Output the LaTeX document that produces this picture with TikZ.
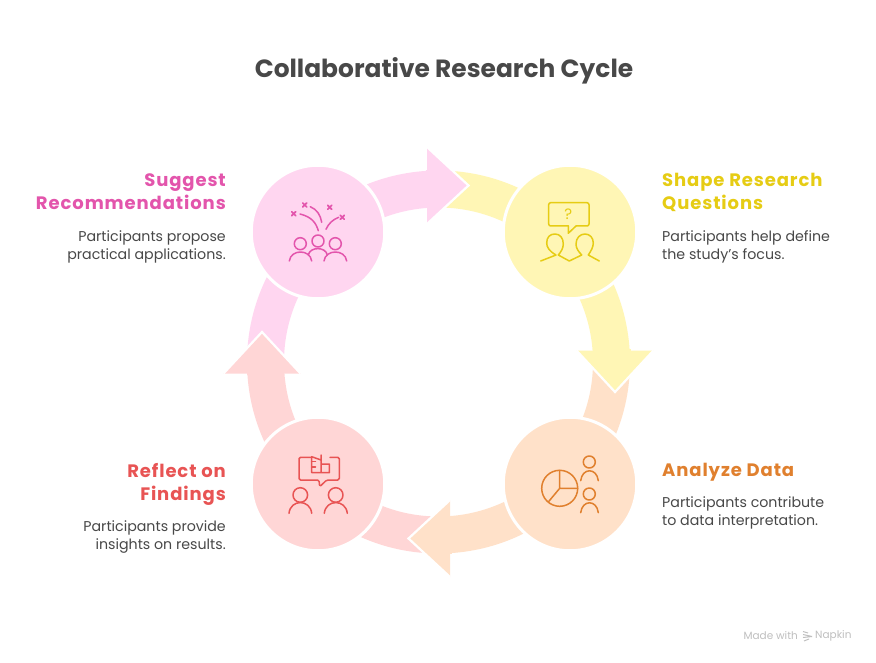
\documentclass[tikz,border=0pt]{standalone}
\usepackage{fontspec}
\setmainfont{Poppins}
\definecolor{pinkL}{HTML}{FFD6F0}
\definecolor{yelL}{HTML}{FFF6B5}
\definecolor{oraL}{HTML}{FFE1C9}
\definecolor{redL}{HTML}{FFD6D6}
\definecolor{pinkD}{HTML}{E355AC}
\definecolor{yelD}{HTML}{E6CC14}
\definecolor{oraD}{HTML}{E0802E}
\definecolor{redD}{HTML}{E85454}
\definecolor{ink}{HTML}{484848}
\newfontfamily\headfont[LetterSpace=5]{Poppins}
\tikzset{
  hub/.style={circle,draw=white,line width=3pt,minimum size=133.5pt,inner sep=0pt},
  icon/.style={line width=1.5pt,line cap=round,line join=round},
  heading/.style={inner sep=0pt,font=\headfont\fontsize{18}{23}\selectfont\bfseries},
  body/.style={inner sep=0pt,text=ink,font=\fontsize{14.2}{18}\selectfont},
}
% #1 rotation, #2 colour
\newcommand{\bandarc}[2]{%
  \begin{scope}[shift={(438.5,-362)},rotate=#1]
    \fill[#2] (180:154.5) arc[start angle=180,end angle=93.8,radius=154.5]
      -- (93.8:191.5) arc[start angle=93.8,end angle=180,radius=191.5] -- cycle;
  \end{scope}}
\newcommand{\arrowtip}[2]{%
  \begin{scope}[shift={(438.5,-362)},rotate=#1]
    \fill[#2] (-11.5,215) -- (30,176.5) -- (-11.5,138) -- cycle;
    \draw[white,line width=2.2pt,line join=miter] (-11.5,215) -- (30,176.5) -- (-11.5,138);
    \fill[#2] (-13,192) rectangle (-10.5,155);
  \end{scope}}
\newcommand{\shoulder}[4]{% x1, y-bottom, x2, y-top
  (#1,-#2) .. controls (#1+1.5,-#4) and (#3-1.5,-#4) .. (#3,-#2)}
\begin{document}
\begin{tikzpicture}[x=1pt,y=1pt]
\useasboundingbox (0,-663) rectangle (876,0);
\fill[white] (0,-663) rectangle (876,0);

\node[inner sep=0pt,text=ink,font=\fontsize{24.9}{28}\selectfont\bfseries] (title) at (444,-71) {Collaborative Research Cycle};

% ring bands, then arrow heads
\bandarc{0}{pinkL}\bandarc{-90}{yelL}\bandarc{-180}{oraL}\bandarc{-270}{redL}
\arrowtip{0}{pinkL}\arrowtip{-90}{yelL}\arrowtip{-180}{oraL}\arrowtip{-270}{redL}

% hubs
\node[hub,fill=pinkL] (hubA) at (318,-232) {};
\node[hub,fill=yelL]  (hubB) at (570,-232) {};
\node[hub,fill=oraL]  (hubC) at (570,-484) {};
\node[hub,fill=redL]  (hubD) at (318,-484) {};

% pink icon
\begin{scope}[icon,draw=pinkD]
  \draw (300.3,-243.7) circle (6);
  \draw (318,-241) circle (6);
  \draw (335.3,-243.7) circle (6);
  \draw \shoulder{289.3}{261}{311.7}{249};
  \draw \shoulder{308.3}{255}{327.3}{246.5};
  \draw \shoulder{324}{261}{346.7}{249};
  \draw (300,-214) .. controls (312,-217) and (316,-223) .. (318.3,-230.7);
  \draw (310.3,-206.7) .. controls (317,-209.5) and (320.5,-215) .. (321.7,-222.3);
  \draw (338.7,-217.3) .. controls (333,-219.5) and (328.5,-223.5) .. (326,-229.3);
  \foreach \mx/\my in {293.7/213.7,304.7/205,329.7/207.3,342.3/217.3}{
    \draw[line width=1.7pt] (\mx-2,-\my-2) -- (\mx+2,-\my+2) (\mx-2,-\my+2) -- (\mx+2,-\my-2);
  }
\end{scope}

% yellow icon
\begin{scope}[icon,draw=yelD]
  \draw[rounded corners=2pt] (568.3,-226) -- (548.7,-226) -- (548.7,-202.7) -- (589,-202.7) -- (589,-226) -- (576,-226);
  \draw (576,-226) -- (568.3,-233.3) -- (568.3,-226);
  \draw (540.7,-261) -- (556,-255) .. controls (549,-251) and (546.7,-247) .. (546.7,-243) .. controls (546.7,-237) and (550,-234) .. (555,-234) .. controls (560,-234) and (563.3,-238) .. (563.3,-244) .. controls (563.3,-248) and (561,-252) .. (558.3,-255) -- (569.3,-261) -- (581.7,-255) .. controls (578,-251) and (576,-248) .. (576,-244) .. controls (576,-238) and (580,-234) .. (585,-234) .. controls (590,-234) and (593.3,-238) .. (593.3,-243) .. controls (593.3,-247) and (591,-251) .. (588.3,-255) -- (599.3,-261);
  \node[inner sep=0pt,text=yelD,font=\fontsize{15}{15}\selectfont] (qmark) at (568.3,-214.5) {?};
\end{scope}

% orange icon
\begin{scope}[icon,draw=oraD]
  \draw (559.7,-488.3) circle (18);
  \draw (559.7,-470.3) -- (559.7,-488.3) -- (577.7,-488.3) (559.7,-488.3) -- (548.3,-502);
  \draw (589.3,-462) circle (6);
  \draw (589.3,-494) circle (6);
  \draw \shoulder{580.7}{480.7}{598.3}{467.5};
  \draw \shoulder{580.7}{512.7}{598.3}{499.5};
\end{scope}

% red icon
\begin{scope}[icon,draw=redD]
  \draw[rounded corners=1.5pt] (310.7,-457.3) -- (299,-457.3) -- (299,-480) -- (319,-480) -- (319.7,-486.7) -- (326.7,-480) -- (339.3,-480) -- (339.3,-457.3) -- (330,-457.3);
  \draw (321,-455) -- (321,-472.7) -- (311.7,-472.7) -- (311.7,-456.7) -- (321,-460) (321,-464) -- (329.3,-464) -- (329.3,-472.7) -- (321,-472.7);
  \draw (311.7,-461.7) -- (315.5,-461.7) (311.7,-467) -- (315.5,-467);
  \draw (300.3,-495) circle (7.3);
  \draw (335.7,-495) circle (7.3);
  \draw \shoulder{289}{513.3}{311.7}{499};
  \draw \shoulder{324.3}{513.3}{347.3}{499};
\end{scope}

% labels
\node[heading,text=pinkD,align=right,anchor=north east] (headA) at (226,-173) {Suggest\\Recommendations};
\node[body,align=right,anchor=north east] (bodyA) at (226,-230) {Participants propose\\practical applications.};
\node[heading,text=yelD,align=left,anchor=north west] (headB) at (662,-173) {Shape Research\\Questions};
\node[body,align=left,anchor=north west] (bodyB) at (662,-230) {Participants help define\\the study's focus.};
\node[heading,text=oraD,align=left,anchor=north west] (headC) at (662,-463) {Analyze Data};
\node[body,align=left,anchor=north west] (bodyC) at (662,-496) {Participants contribute\\to data interpretation.};
\node[heading,text=redD,align=right,anchor=north east] (headD) at (226,-463) {Reflect on\\Findings};
\node[body,align=right,anchor=north east] (bodyD) at (226,-520) {Participants provide\\insights on results.};

% footer
\node[inner sep=0pt,anchor=east,text=black!25,font=\fontsize{10.5}{12}\selectfont] (brandL) at (798,-636) {Made with};
\node[inner sep=0pt,anchor=west,text=black!25,font=\fontsize{10.5}{12}\selectfont] (brandR) at (815,-636) {Napkin};
\draw[black!25,line width=1pt] (803,-631.5) -- (808,-633) (803,-634.5) -- (812,-636.5) (803,-637.5) -- (812,-636.5) (804,-641) -- (809,-639);
\end{tikzpicture}
\end{document}
